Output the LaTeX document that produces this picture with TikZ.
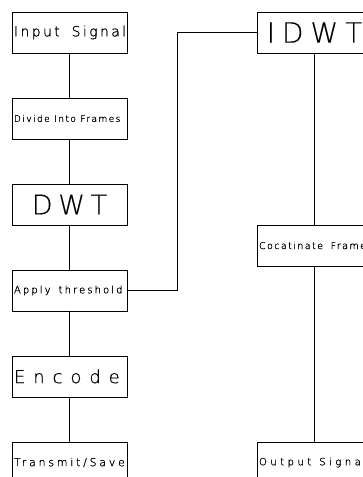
\documentclass[tikz,border=0pt]{standalone}
\usepackage{fontspec}
\newfontfamily\cadfont{DejaVu Sans ExtraLight}
\usetikzlibrary{positioning}
\newcommand\cadsize[3]{\fontsize{#1}{#1}\cadfont\addfontfeatures{LetterSpace=#2, FakeBold=#3}}
\tikzset{
  x=1pt, y=1pt,
  node distance=45pt,
  box/.style  = {draw, line width=0.9pt, rectangle, minimum width=115pt, minimum height=41pt,
                 outer sep=0pt, inner xsep=2pt, inner ysep=0pt, text width=111pt, align=left},
  big/.style  = {box, align=center},
  gap/.style  = {execute at begin node={\spaceskip=#1em\relax}},
  link/.style = {line width=0.9pt}
}
\begin{document}
\begin{tikzpicture}
\useasboundingbox (0,0) rectangle (363,477);
\clip (0,0) rectangle (363,477);
% left column, top to bottom
\node[box, font=\cadsize{14}{17}{1}, gap=0.85] (input) at (69.5,444.5) {Input Signal};
\node[box, font=\cadsize{9}{16}{1}, gap=0.5, below=of input] (frames) {Divide Into Frames};
\node[big, font=\cadsize{27}{21}{0.3}, below=of frames] (dwt) {DWT};
\node[box, font=\cadsize{10}{21}{1}, gap=0.8, below=of dwt] (thr) {Apply threshold};
\node[box, font=\cadsize{18}{44}{0.5}, below=of thr] (encode) {Encode};
\node[box, font=\cadsize{11}{25}{1}, below=of encode] (save) {Transmit/Save};
% right column
\node[big, font=\cadsize{28}{25}{0.3}, right=130pt of input] (idwt) {IDWT};
\node[box, font=\cadsize{9.5}{15}{1}, gap=0.8, below=172pt of idwt] (concat) {\mbox{Cocatinate Frames}};
\node[box, font=\cadsize{10}{35}{1}, gap=0.8, right=130pt of save] (output) {\mbox{Output Signal}};
% links
\draw[link] (input) -- (frames);
\draw[link] (frames) -- (dwt);
\draw[link] (dwt) -- (thr);
\draw[link] (thr) -- (encode);
\draw[link] (encode) -- (save);
\draw[link] (idwt) -- (concat);
\draw[link] (concat) -- (output);
\draw[link] (thr.east) -- ++(50,0) |- (idwt.west);
\end{tikzpicture}
\end{document}
